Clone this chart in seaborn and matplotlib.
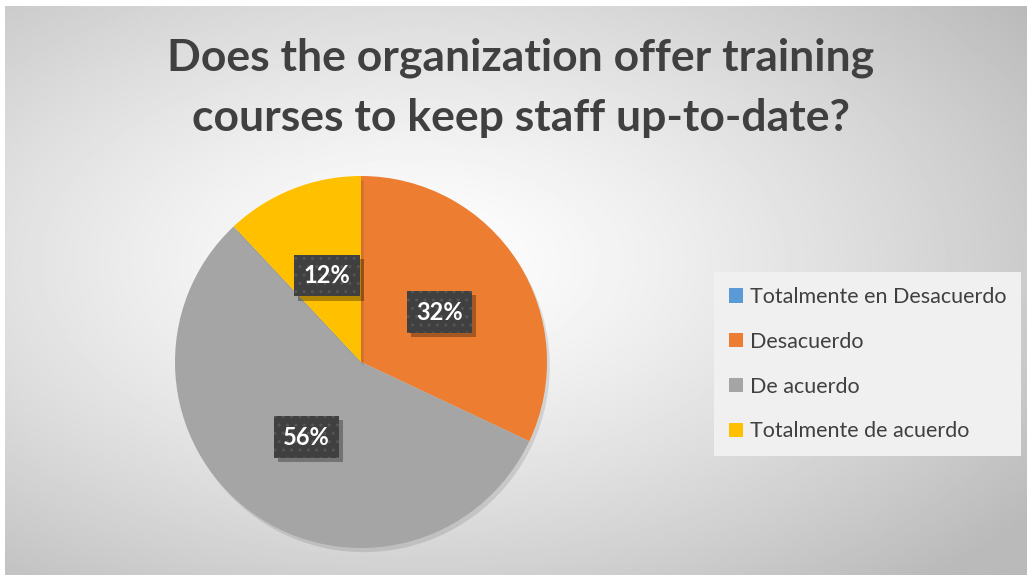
import numpy as np
import matplotlib
matplotlib.use("Agg")
import matplotlib.pyplot as plt
import matplotlib.patheffects as pe
from matplotlib.patches import Patch
import seaborn as sns

# data
categories = ["Totalmente en Desacuerdo", "Desacuerdo", "De acuerdo", "Totalmente de acuerdo"]
shares = [0, 32, 56, 12]
colors = ["#5B9BD5", "#ED7D31", "#A5A5A5", "#FFC000"]
title = "Does the organization offer training\ncourses to keep staff up-to-date?"


class FlatShadow(pe.AbstractPathEffect):
    """Drop shadow without the hatch of the patch it follows."""

    def __init__(self, offset=(3, -3), alpha=0.3):
        super().__init__(offset)
        self.alpha = alpha

    def draw_path(self, renderer, gc, tpath, affine, rgbFace):
        gc0 = renderer.new_gc()
        gc0.copy_properties(gc)
        gc0.set_hatch(None)
        gc0.set_linewidth(0)
        gc0.set_alpha(self.alpha)
        renderer.draw_path(gc0, tpath, affine + self._offset_transform(renderer), (0, 0, 0))
        gc0.restore()


sns.set_theme(style="white")
plt.rcParams["font.family"] = ["Lato", "DejaVu Sans"]
palette = sns.color_palette(colors)

W, H = 1027, 575
fig = plt.figure(figsize=(W / 100, H / 100), dpi=100)
fig.patch.set_facecolor("white")

# radial gradient background
bg = fig.add_axes([5 / W, 0, 1 - 5 / W, 1 - 6 / H], zorder=-5)
yy, xx = np.mgrid[0:1:300j, 0:1:540j]
d = np.sqrt(((xx - 0.40) / 0.75) ** 2 + ((yy - 0.45) / 0.75) ** 2)
shade = 1.0 - 0.27 * np.clip(d, 0, 1) ** 1.3
bg.imshow(shade, cmap="gray", vmin=0, vmax=1, aspect="auto",
          extent=[0, 1, 0, 1], origin="upper", interpolation="bilinear")
bg.set_axis_off()

# pie
cx, cy, r = 361, 362, 186
ax = fig.add_axes([(cx - r) / W, (H - cy - r) / H, 2 * r / W, 2 * r / H])
wedges, _ = ax.pie(shares, colors=palette, startangle=90, counterclock=False,
                   radius=1, wedgeprops=dict(linewidth=0))
for w in wedges:
    w.set_path_effects([pe.SimplePatchShadow(offset=(2, -3), shadow_rgbFace="k", alpha=0.12),
                        pe.Normal()])
ax.set_xlim(-1, 1)
ax.set_ylim(-1, 1)
ax.set_axis_off()

# data labels in dark dotted boxes with a drop shadow
for w, v in zip(wedges, shares):
    if v == 0:
        continue
    ang = np.deg2rad((w.theta1 + w.theta2) / 2)
    t = ax.text(0.5 * np.cos(ang), 0.5 * np.sin(ang), f"{v}%", ha="center", va="center",
                color="white", fontsize=17, fontweight="bold",
                bbox=dict(boxstyle="square,pad=0.4", facecolor="#404040",
                          edgecolor="#555555", linewidth=0, hatch=".."))
    t.get_bbox_patch().set_path_effects([FlatShadow((3, -3), 0.3), pe.Normal()])

# title
fig.text(521 / W, 1 - 88 / H, title, ha="center", va="center", fontsize=32,
         fontweight="bold", color="#404040", linespacing=1.6)

# legend
handles = [Patch(facecolor=c, edgecolor="none") for c in palette]
leg = fig.legend(handles, categories, loc="upper left",
                 bbox_to_anchor=(714 / W, 1 - 272 / H), fontsize=15.5,
                 frameon=True, fancybox=False, framealpha=1, facecolor="#f0f0f0",
                 edgecolor="none", handlelength=0.65, handleheight=0.65,
                 handletextpad=0.3, labelspacing=1.15, borderpad=0.7,
                 borderaxespad=0)
for txt in leg.get_texts():
    txt.set_color("#404040")

fig.savefig("out.png", dpi=100)
